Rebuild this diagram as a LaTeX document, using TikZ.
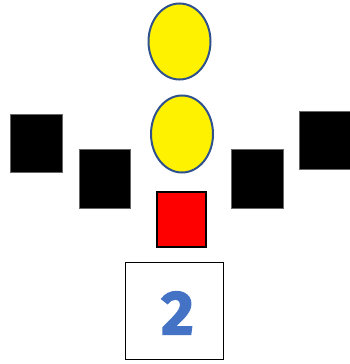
\documentclass[tikz,border=0pt]{standalone}
\usepackage{fontspec}
\newfontfamily\digitfont{Fira Sans Bold}[FakeBold=2.5]
\usetikzlibrary{shapes.geometric}
\definecolor{ellline}{RGB}{47,82,143}
\definecolor{digitblue}{RGB}{68,114,196}
\begin{document}
\begin{tikzpicture}[x=1pt,y=-1pt,
  ell/.style={ellipse,draw=ellline,line width=2pt,fill=yellow,inner sep=0pt},
  blk/.style={draw=black!60,line width=0.5pt,fill=black,inner sep=0pt},
  redbox/.style={draw=black,line width=2pt,fill=red,inner sep=0pt},
  whitebox/.style={draw=black,line width=1.4pt,fill=white,inner sep=0pt}]
\useasboundingbox (0,0) rectangle (349,364);
\node[ell,minimum width=62pt,minimum height=76pt] (e1) at (179.5,41.5) {};
\node[ell,minimum width=62pt,minimum height=77pt] (e2) at (182,134) {};
\node[blk,minimum width=52pt,minimum height=58pt] (b1) at (36,143) {};
\node[blk,minimum width=51pt,minimum height=59pt] (b2) at (104.5,178.5) {};
\node[redbox,minimum width=49pt,minimum height=55pt] (r) at (181.5,219.5) {};
\node[blk,minimum width=52pt,minimum height=59pt] (b3) at (257,178.5) {};
\node[blk,minimum width=52pt,minimum height=58pt] (b4) at (325,140) {};
\node[whitebox,minimum width=98pt,minimum height=97pt] (w) at (174.5,311) {};
\node[text=digitblue,font=\digitfont\fontsize{62}{62}\selectfont,inner sep=0pt] (d) at (177.5,313) {2};
\end{tikzpicture}
\end{document}
